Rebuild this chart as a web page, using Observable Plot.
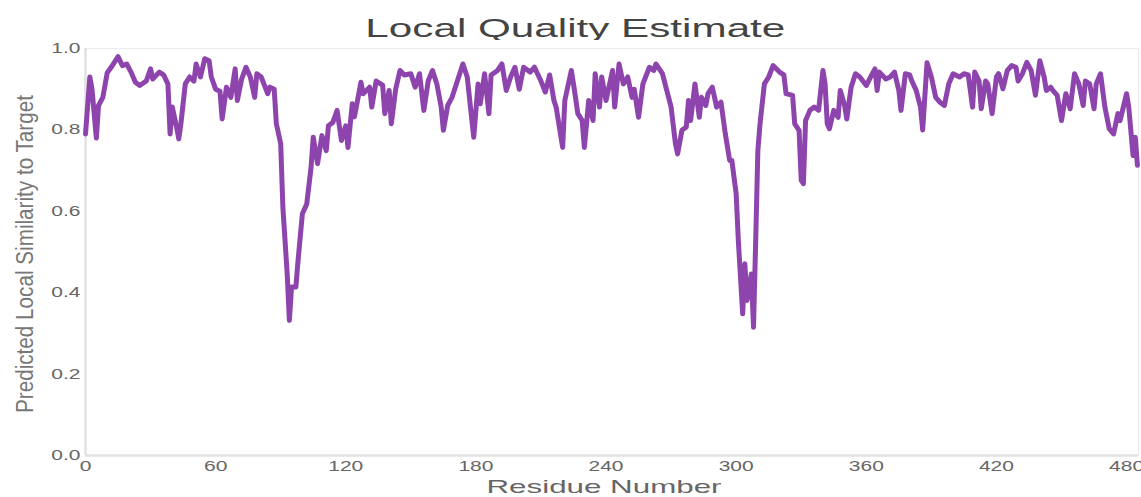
<!DOCTYPE html>
<html>
<head>
<meta charset="utf-8">
<script src="https://cdn.jsdelivr.net/npm/d3@7"></script>
<script src="https://cdn.jsdelivr.net/npm/@observablehq/plot@0.6"></script>
<style>
  html, body { margin: 0; padding: 0; background: #fff; }
  #wrap { position: relative; width: 1141px; height: 497px; overflow: hidden; font-family: "Liberation Sans", Arial, sans-serif; }
  #title { position: absolute; top: 15px; left: 0; font-size: 26px; line-height: 26px; color: #444; white-space: nowrap; transform-origin: center center; }
  #chart { position: absolute; top: 40px; left: 0; }
</style>
</head>
<body>
<div id="wrap">
  <div id="title">Local Quality Estimate</div>
  <div id="chart"></div>
</div>
<script>
// ---- data ----
const titleText = "Local Quality Estimate";
const xLabel = "Residue Number";
const yLabel = "Predicted Local Similarity to Target";
const xTicks = [0, 60, 120, 180, 240, 300, 360, 420, 480];
const yTicks = [0, 0.2, 0.4, 0.6, 0.8, 1.0];

const residues = [
  0,2,3,5,6,8,10,12,15,17,19,21,23,25,28,30,31,34,36,38,39,40,42,43,44,46,48,50,51,53,55,57,58,60,62,63,65,67,69,70,
  72,74,76,78,79,81,84,85,87,88,90,91,93,94,95,97,98,100,102,104,105,107,109,111,112,114,116,118,120,121,123,124,127,128,131,132,134,137,138,140,
  141,143,145,147,150,152,154,156,158,160,162,164,165,167,169,171,174,176,179,181,182,184,186,187,190,192,194,196,198,200,202,205,207,210,212,214,216,217,220,221,
  224,225,227,229,230,232,234,235,237,238,240,243,244,246,248,250,252,253,255,257,260,262,263,266,268,270,272,273,275,277,278,279,281,283,284,286,287,289,291,293,
  295,297,298,300,301,303,304,305,307,308,309,310,311,313,315,317,320,322,323,326,327,329,330,331,332,334,336,338,340,341,342,343,345,347,348,350,351,353,355,357,
  360,362,364,365,366,369,371,373,375,376,378,380,381,383,385,386,388,390,392,394,396,398,400,403,405,407,409,410,412,413,415,416,418,420,421,423,425,427,429,430,
  432,434,436,438,440,442,443,445,446,448,450,452,454,456,458,460,461,463,465,466,468,470,472,474,476,477,480,481,483,484,485
];
const scores = [
  0.79,0.93,0.90,0.78,0.86,0.88,0.94,0.955,0.98,0.958,0.962,0.942,0.917,0.909,0.92,0.95,0.925,0.942,0.935,0.913,0.79,0.856,0.807,0.778,0.816,0.913,0.93,0.92,0.962,0.93,0.975,0.97,0.93,0.90,0.895,0.827,0.905,0.88,0.95,0.872,
  0.925,0.954,0.93,0.88,0.938,0.93,0.889,0.905,0.90,0.815,0.766,0.61,0.446,0.332,0.414,0.414,0.479,0.594,0.618,0.708,0.782,0.717,0.786,0.749,0.81,0.818,0.848,0.774,0.81,0.757,0.864,0.832,0.917,0.889,0.905,0.856,0.92,0.91,0.84,0.897,
  0.815,0.90,0.946,0.935,0.938,0.905,0.938,0.848,0.92,0.946,0.913,0.856,0.799,0.86,0.88,0.913,0.962,0.93,0.782,0.913,0.864,0.938,0.84,0.935,0.946,0.962,0.897,0.93,0.954,0.90,0.954,0.942,0.954,0.92,0.893,0.935,0.872,0.856,0.757,0.872,
  0.946,0.913,0.84,0.823,0.757,0.872,0.823,0.938,0.856,0.93,0.872,0.946,0.856,0.962,0.913,0.93,0.88,0.90,0.831,0.913,0.954,0.946,0.962,0.938,0.897,0.856,0.766,0.741,0.799,0.807,0.872,0.823,0.913,0.831,0.88,0.86,0.889,0.905,0.856,0.868,
  0.79,0.725,0.725,0.643,0.528,0.348,0.471,0.381,0.446,0.315,0.528,0.749,0.815,0.913,0.93,0.958,0.942,0.935,0.889,0.885,0.815,0.799,0.676,0.668,0.823,0.848,0.856,0.848,0.946,0.913,0.815,0.803,0.848,0.831,0.897,0.86,0.827,0.905,0.938,0.93,
  0.909,0.93,0.95,0.897,0.942,0.925,0.93,0.942,0.897,0.848,0.938,0.935,0.92,0.897,0.856,0.80,0.965,0.93,0.88,0.868,0.86,0.913,0.938,0.93,0.938,0.935,0.856,0.942,0.92,0.852,0.92,0.913,0.84,0.93,0.938,0.901,0.946,0.958,0.954,0.92,
  0.938,0.966,0.946,0.885,0.97,0.93,0.897,0.905,0.897,0.885,0.823,0.889,0.852,0.938,0.913,0.86,0.92,0.913,0.852,0.913,0.938,0.856,0.803,0.79,0.84,0.823,0.889,0.856,0.737,0.782,0.713
];

const data = residues.map((r, i) => ({residue: r, score: scores[i]}));

const W = 1141, H = 457;
const plot = Plot.plot({
  width: W,
  height: H,
  marginTop: 8,
  marginBottom: 42,
  marginLeft: 85,
  marginRight: 3,
  style: {fontFamily: "'Liberation Sans', Arial, sans-serif", fontSize: "14px", color: "#666", background: "#fff"},
  x: {domain: [0, 485.5], ticks: xTicks, tickSize: 0, tickPadding: 6, label: null},
  y: {domain: [0, 1], ticks: yTicks, tickSize: 0, tickPadding: 5, tickFormat: d3.format(".1f"), label: null},
  marks: [
    Plot.frame({stroke: "#ececec", strokeWidth: 1}),
    Plot.ruleX([0], {stroke: "#e2e2e2", strokeWidth: 2.5}),
    Plot.ruleY([0], {stroke: "#e2e2e2", strokeWidth: 2.5}),
    Plot.line(data, {x: "residue", y: "score", stroke: "#8e44ad", strokeWidth: 5, strokeLinejoin: "round", strokeLinecap: "round"})
  ]
});
document.getElementById("chart").appendChild(plot);

// stretch tick labels horizontally like the reference
d3.select(plot).selectAll('g[aria-label="x-axis tick label"] text, g[aria-label="y-axis tick label"] text').each(function() {
  const len = this.getComputedTextLength();
  this.setAttribute("textLength", (len * 1.5).toFixed(1));
  this.setAttribute("lengthAdjust", "spacingAndGlyphs");
  this.setAttribute("fill", "#666");
});

const svg = d3.select(plot);
svg.append("text")
  .attr("x", 604).attr("y", 453)
  .attr("text-anchor", "middle")
  .attr("font-size", 19).attr("fill", "#666")
  .attr("textLength", 235).attr("lengthAdjust", "spacingAndGlyphs")
  .text(xLabel);
svg.append("text")
  .attr("transform", "translate(25,214) rotate(-90)")
  .attr("text-anchor", "middle").attr("dy", "0.35em")
  .attr("font-size", 23).attr("fill", "#777")
  .attr("textLength", 318).attr("lengthAdjust", "spacingAndGlyphs")
  .text(yLabel);

// title: stretch to the reference width
const t = document.getElementById("title");
t.textContent = titleText;
const tw = t.getBoundingClientRect().width;
t.style.left = (575 - tw / 2) + "px";
t.style.transform = "scaleX(" + (420 / tw) + ")";
</script>
</body>
</html>
